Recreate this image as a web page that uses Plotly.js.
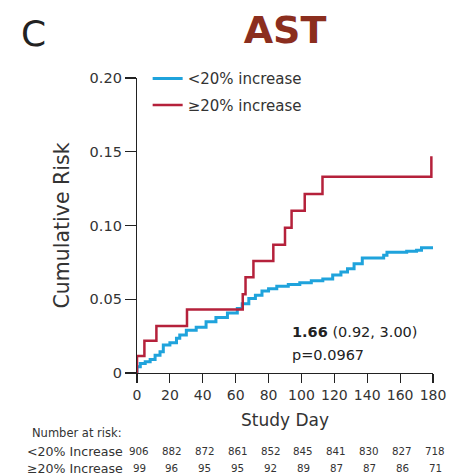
<!DOCTYPE html>
<html><head><meta charset="utf-8">
<script src="https://cdn.plot.ly/plotly-3.0.1.min.js"></script>
<style>html,body{margin:0;padding:0;background:#fff}#chart{width:452px;height:475px}</style>
</head><body><div id="chart"></div>
<script>
// ---- data ----
const seriesNames = ['<20% increase', '\u226520% increase'];
const lowDays = [0, 0, 2, 5, 8, 11, 14, 16, 20, 24, 26, 30, 36, 42, 48, 55, 61, 64, 68, 72, 76, 80, 85, 92, 99, 106, 113, 119, 124, 128, 132, 137, 150, 152, 164, 170, 173, 180];
const lowRisk = [0, 0.0043, 0.0065, 0.0077, 0.0092, 0.012, 0.0144, 0.019, 0.0205, 0.0236, 0.0257, 0.029, 0.031, 0.0347, 0.0376, 0.0407, 0.0437, 0.047, 0.0505, 0.0527, 0.0556, 0.0572, 0.0588, 0.0600, 0.0612, 0.0625, 0.0638, 0.0664, 0.0685, 0.0707, 0.0740, 0.0780, 0.0798, 0.0818, 0.0825, 0.0832, 0.0849, 0.0849];
const highDays = [0, 0, 4.5, 11.8, 30.4, 64.3, 66, 70.8, 82.9, 90, 94, 102, 112.8, 179];
const highRisk = [0, 0.0115, 0.0218, 0.0318, 0.043, 0.0534, 0.065, 0.0759, 0.087, 0.0985, 0.110, 0.1214, 0.133, 0.147];
const xTicks = [0, 20, 40, 60, 80, 100, 120, 140, 160, 180];
const yTickVals = [0, 0.05, 0.10, 0.15, 0.20];
const yTickText = ['0', '0.05', '0.10', '0.15', '0.20'];
const riskHeader = 'Number at risk:';
const riskRowLabels = ['<20% Increase', '\u226520% Increase'];
const riskLow = [906, 882, 872, 861, 852, 845, 841, 830, 827, 718];
const riskHigh = [99, 96, 95, 95, 92, 89, 87, 87, 86, 71];
const hrText = '<b>1.66</b> (0.92, 3.00)';
const pText = 'p=0.0967';
const panelLetter = 'C';
const chartTitle = 'AST';

// ---- style ----
const FONT = 'DejaVu Sans, Arial, sans-serif';
const TXT = '#333333';
const BLUE = '#1fa3dc';
const RED = '#b5213b';

const traces = [
  {x: lowDays, y: lowRisk, name: seriesNames[0], mode: 'lines', line: {shape: 'hv', color: BLUE, width: 3}, legendgroup: 'a'},
  {x: highDays, y: highRisk, name: seriesNames[1], mode: 'lines', line: {shape: 'hv', color: RED, width: 2.5}, legendgroup: 'b'}
];

const annotations = [
  {text: panelLetter, xref: 'paper', yref: 'paper', x: -0.3485, y: 1.1525, xanchor: 'center', yanchor: 'middle', showarrow: false, font: {family: FONT, size: 36, color: '#222'}},
  {text: hrText, xref: 'x', yref: 'y', x: 93, y: 0.0278, xanchor: 'left', yanchor: 'middle', showarrow: false, font: {family: FONT, size: 14.5, color: '#222'}},
  {text: pText, xref: 'x', yref: 'y', x: 93, y: 0.0122, xanchor: 'left', yanchor: 'middle', showarrow: false, font: {family: FONT, size: 14.5, color: '#222'}},
  {text: riskHeader, xref: 'paper', yref: 'paper', x: -0.362, y: -0.2034, xanchor: 'left', yanchor: 'middle', showarrow: false, font: {family: FONT, size: 11.5, color: TXT}}
];
const rowY = [-0.266, -0.3236];
const rows = [riskLow, riskHigh];
riskRowLabels.forEach((lab, i) => {
  annotations.push({text: lab, xref: 'paper', yref: 'paper', x: -0.38, y: rowY[i], xanchor: 'left', yanchor: 'middle', showarrow: false, font: {family: FONT, size: 12.6, color: TXT}});
  rows[i].forEach((n, j) => {
    annotations.push({text: String(n), xref: 'x', yref: 'paper', x: xTicks[j], xshift: 2, y: rowY[i], xanchor: 'center', yanchor: 'middle', showarrow: false, font: {family: FONT, size: 10.3, color: TXT}});
  });
});

const layout = {
  width: 452, height: 475,
  margin: {l: 136.5, r: 18.5, t: 78, b: 102},
  paper_bgcolor: '#fff', plot_bgcolor: '#fff',
  font: {family: FONT, color: TXT},
  title: {text: '<b>' + chartTitle + '</b>', x: 0.5, xref: 'paper', xanchor: 'center', y: 0.937, yref: 'container', yanchor: 'middle', font: {family: FONT, size: 38, color: '#8b2e1e'}},
  showlegend: true,
  legend: {x: 0.036, y: 1.053, xanchor: 'left', yanchor: 'top', bgcolor: 'rgba(0,0,0,0)', font: {family: FONT, size: 15, color: TXT}, tracegroupgap: 4},
  xaxis: {range: [0, 180], tickvals: xTicks, ticks: 'outside', ticklen: 9, tickcolor: '#222', tickwidth: 1.2, showline: true, linecolor: '#222', linewidth: 1.2, showgrid: false, zeroline: false, tickfont: {family: FONT, size: 14, color: TXT}, title: {text: 'Study Day', font: {family: FONT, size: 17, color: TXT}, standoff: 12}},
  yaxis: {range: [0, 0.20], tickvals: yTickVals, ticktext: yTickText, ticks: 'outside', ticklen: 11, tickcolor: '#222', tickwidth: 1.2, showline: true, linecolor: '#222', linewidth: 1.2, showgrid: false, zeroline: false, tickfont: {family: FONT, size: 14.5, color: TXT}, title: {text: 'Cumulative Risk', font: {family: FONT, size: 20.5, color: TXT}, standoff: 14}},
  annotations: annotations
};

Plotly.newPlot('chart', traces, layout, {displayModeBar: false, staticPlot: true});
</script>
</body></html>
